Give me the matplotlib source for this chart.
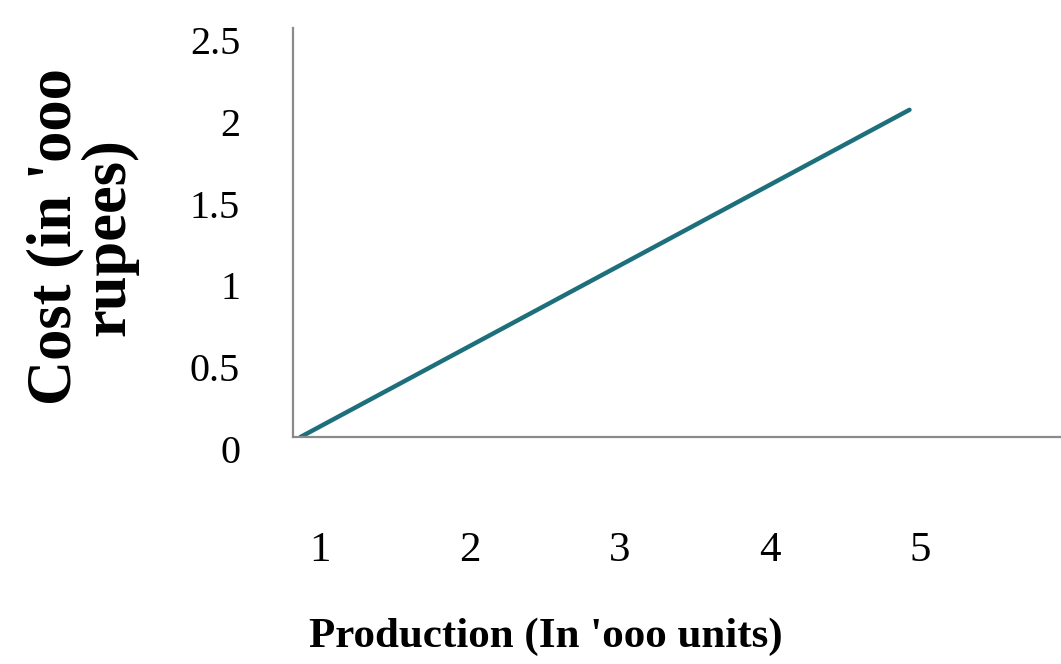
import matplotlib
matplotlib.use("Agg")
import matplotlib.pyplot as plt
import matplotlib.transforms as mtransforms

production = [0.87, 4.93]
cost = [0, 2]
x_ticks = [1, 2, 3, 4, 5]
y_ticks = [0, 0.5, 1, 1.5, 2, 2.5]
y_tick_labels = ["0", "0.5", "1", "1.5", "2", "2.5"]

plt.rcParams['font.family'] = ['Liberation Serif', 'DejaVu Serif']

fig = plt.figure(figsize=(10.61, 6.64), dpi=100)
ax = fig.add_axes([293/1061, 1-437/664, 1-293/1061, (437-28)/664])
ax.plot(production, cost, color="#1d6f7c", lw=3.2, solid_capstyle="round")
ax.set_xlim((293-170)/150, (1061-170)/150)
ax.set_ylim(0, 2.5)
ax.set_xticks(x_ticks)
ax.set_xticklabels([str(v) for v in x_ticks], fontsize=31)
ax.set_yticks(y_ticks)
ax.set_yticklabels(y_tick_labels, fontsize=29)
ax.tick_params(axis='both', length=0)
ax.tick_params(axis='x', pad=68)
ax.tick_params(axis='y', pad=38)
offset = mtransforms.ScaledTranslation(0, -12/100, fig.dpi_scale_trans)
for lbl in ax.get_yticklabels():
    lbl.set_transform(lbl.get_transform() + offset)
for s in ['top', 'right']:
    ax.spines[s].set_visible(False)
for s in ['left', 'bottom']:
    ax.spines[s].set_color('#8a8a8a')
    ax.spines[s].set_linewidth(1.6)

fig.text(546/1061, 1-637/664, "Production (In 'ooo units)", ha='center', va='center',
         fontsize=31, fontweight='bold')
fig.text(82/1061, 1-237/664, "Cost (in 'ooo\nrupees)", ha='center', va='center',
         rotation=90, fontsize=45, fontweight='bold', linespacing=0.9, multialignment='center')

fig.savefig("out.png", dpi=100, facecolor='white')
